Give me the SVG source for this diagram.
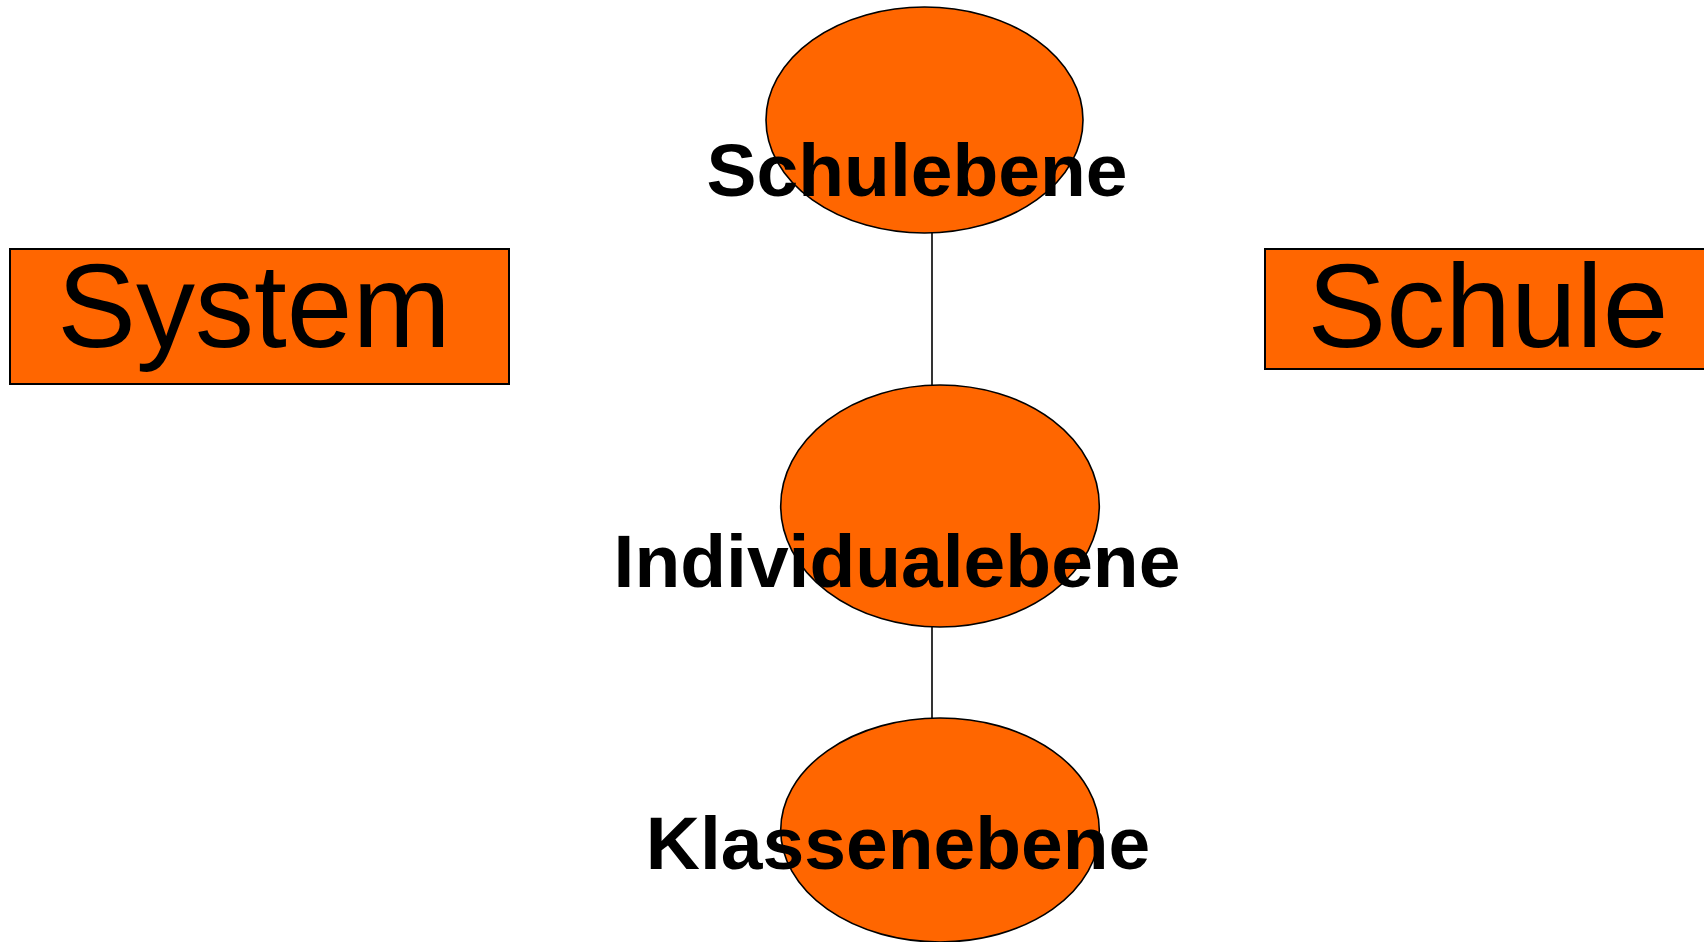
<svg xmlns="http://www.w3.org/2000/svg" width="1704" height="942" viewBox="0 0 1704 942">
  <style>
    .bg { fill: #ffffff; }
    .box { fill: #ff6600; stroke: #000000; stroke-width: 2; }
    .oval { fill: #ff6600; stroke: #000000; stroke-width: 1.6; }
    .link { stroke: #000000; stroke-width: 1.6; fill: none; }
    .big { font-family: "Liberation Sans", Arial, sans-serif; font-size: 118px; fill: #000000; text-anchor: middle; }
    .lvl { font-family: "Liberation Sans", Arial, sans-serif; font-size: 75px; font-weight: bold; fill: #000000; text-anchor: middle; }
  </style>
  <rect class="bg" x="0" y="0" width="1704" height="942"/>

  <!-- connectors between the three levels -->
  <g id="connectors">
    <line class="link" x1="932" y1="233" x2="932" y2="385"/>
    <line class="link" x1="932" y1="627" x2="932" y2="718"/>
  </g>

  <g id="system">
    <rect class="box" x="10" y="249" width="499" height="135"/>
    <text class="big" x="254" y="347">System</text>
  </g>

  <g id="schule">
    <rect class="box" x="1265" y="249" width="440" height="120"/>
    <text class="big" x="1488" y="347">Schule</text>
  </g>

  <g id="schulebene">
    <ellipse class="oval" cx="924.5" cy="120" rx="158.5" ry="113"/>
    <text class="lvl" x="917" y="196">Schulebene</text>
  </g>

  <g id="individualebene">
    <ellipse class="oval" cx="940" cy="506" rx="159.3" ry="121"/>
    <text class="lvl" x="897" y="587">Individualebene</text>
  </g>

  <g id="klassenebene">
    <ellipse class="oval" cx="940" cy="830" rx="159.3" ry="112"/>
    <text class="lvl" x="898" y="869">Klassenebene</text>
  </g>
</svg>
